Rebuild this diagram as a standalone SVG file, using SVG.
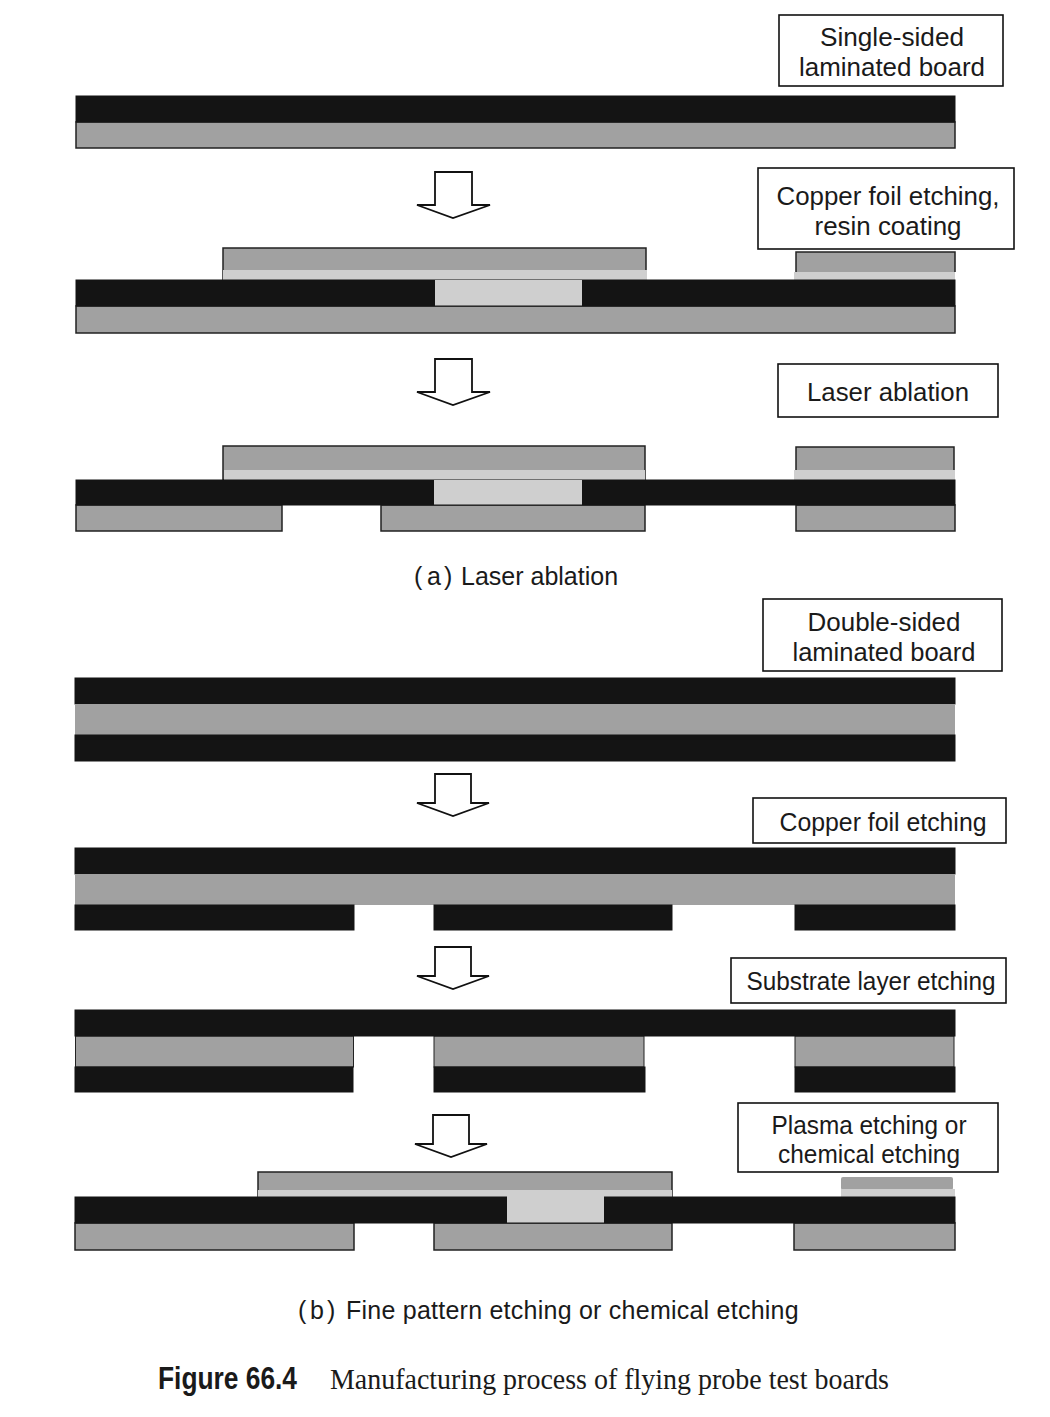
<svg xmlns="http://www.w3.org/2000/svg" width="1050" height="1417" viewBox="0 0 1050 1417">
<style>
.k{fill:#141414;stroke:#141414;stroke-width:1}
.g{fill:#a1a1a1;stroke:#222;stroke-width:1.5}
.n{fill:#a1a1a1}
.l{fill:#cfcfcf}
.b{fill:#fff;stroke:#111;stroke-width:1.6}
.a{fill:#fff;stroke:#111;stroke-width:1.8;stroke-linejoin:miter}
text{font-family:"Liberation Sans",Arial,sans-serif;font-size:25px;fill:#1a1a1a;text-anchor:middle}
.c{text-anchor:start}
</style>
<rect width="1050" height="1417" fill="#fff"/>
<g id="connectors">
<path class="a" d="M435 172H472V205L490 205L453 218L417 205L435 205Z"/>
<path class="a" d="M435 359H472V392L490 392L453 405L417 392L435 392Z"/>
<path class="a" d="M435 774H471V803L489 803L453 816L417 803L435 803Z"/>
<path class="a" d="M435 947H471V976L489 976L453 989L417 976L435 976Z"/>
<path class="a" d="M433 1115H469V1144L487 1144L451 1157L415 1144L433 1144Z"/>
</g>
<g id="board-a1">
<rect class="g" x="76" y="122" width="879" height="26"/>
<rect class="k" x="76" y="96" width="879" height="26"/>
</g>
<g id="board-a2">
<rect class="g" x="223" y="248" width="423" height="32"/>
<rect class="l" x="223" y="270" width="424" height="10"/>
<rect class="n" x="796" y="252" width="159" height="20"/>
<path d="M796 272V252H955V272" fill="none" stroke="#222" stroke-width="1.5"/>
<rect class="l" x="794" y="272" width="161" height="8"/>
<rect class="g" x="76" y="306" width="879" height="27"/>
<rect class="k" x="76" y="280" width="879" height="26"/>
<rect class="l" x="435" y="280" width="147" height="25.500"/>
</g>
<g id="board-a3">
<rect class="g" x="223" y="446" width="422" height="34"/>
<rect class="l" x="224" y="470" width="421" height="10"/>
<rect class="g" x="796" y="447" width="158" height="33"/>
<rect class="l" x="794" y="470" width="161" height="10"/>
<rect class="g" x="76" y="505" width="206" height="26"/>
<rect class="g" x="381" y="505" width="264" height="26"/>
<rect class="g" x="796" y="505" width="159" height="26"/>
<rect class="k" x="76" y="480" width="879" height="25"/>
<rect class="l" x="434" y="480" width="148" height="24.500"/>
</g>
<g id="board-b1">
<rect class="k" x="75" y="678" width="880" height="26"/>
<rect class="n" x="75" y="704" width="880" height="31"/>
<rect class="k" x="75" y="735" width="880" height="26"/>
</g>
<g id="board-b2">
<rect class="k" x="75" y="848" width="880" height="26"/>
<rect class="n" x="75" y="874" width="880" height="31"/>
<rect class="k" x="75" y="905" width="279" height="25"/>
<rect class="k" x="434" y="905" width="238" height="25"/>
<rect class="k" x="795" y="905" width="160" height="25"/>
</g>
<g id="board-b3">
<rect class="g" x="75.500" y="1036" width="278" height="31" style="stroke-width:1"/>
<rect class="g" x="434" y="1036" width="210" height="31" style="stroke-width:1"/>
<rect class="g" x="795" y="1036" width="159" height="31" style="stroke-width:1"/>
<rect class="k" x="75" y="1010" width="880" height="26"/>
<rect class="k" x="75" y="1067" width="278" height="25"/>
<rect class="k" x="434" y="1067" width="211" height="25"/>
<rect class="k" x="795" y="1067" width="160" height="25"/>
</g>
<g id="board-b4">
<rect class="g" x="258" y="1172" width="414" height="25"/>
<rect class="l" x="258" y="1190" width="414" height="7"/>
<rect class="n" x="841" y="1177" width="112" height="13" rx="2"/>
<rect class="l" x="841" y="1189" width="114" height="8"/>
<rect class="g" x="75" y="1223" width="279" height="27"/>
<rect class="g" x="434" y="1223" width="238" height="27"/>
<rect class="g" x="794" y="1223" width="161" height="27"/>
<rect class="k" x="75" y="1197" width="880" height="26"/>
<rect class="l" x="507" y="1191" width="97" height="31.500"/>
</g>
<g id="label-single"><rect class="b" x="779" y="15" width="224" height="71"/><text x="892" y="46" textLength="144" lengthAdjust="spacingAndGlyphs">Single-sided</text><text x="892" y="76" textLength="186" lengthAdjust="spacingAndGlyphs">laminated board</text></g>
<g id="label-copper-resin"><rect class="b" x="758" y="168" width="256" height="81"/><text x="888" y="205" textLength="223" lengthAdjust="spacingAndGlyphs">Copper foil etching,</text><text x="888" y="235" textLength="147" lengthAdjust="spacingAndGlyphs">resin coating</text></g>
<g id="label-laser"><rect class="b" x="778" y="364" width="220" height="53"/><text x="888" y="401" textLength="162" lengthAdjust="spacingAndGlyphs">Laser ablation</text></g>
<g id="caption-a"><text class="c" x="414" y="585">(<tspan x="427">a</tspan><tspan x="444">) </tspan><tspan x="461">Laser ablation</tspan></text></g>
<g id="label-double"><rect class="b" x="763" y="599" width="239" height="72"/><text x="884" y="631" textLength="153" lengthAdjust="spacingAndGlyphs">Double-sided</text><text x="884" y="661" textLength="183" lengthAdjust="spacingAndGlyphs">laminated board</text></g>
<g id="label-copper"><rect class="b" x="753" y="798" width="253" height="45"/><text x="883" y="831" textLength="207" lengthAdjust="spacingAndGlyphs">Copper foil etching</text></g>
<g id="label-substrate"><rect class="b" x="731" y="958" width="275" height="45"/><text x="871" y="990" textLength="249" lengthAdjust="spacingAndGlyphs">Substrate layer etching</text></g>
<g id="label-plasma"><rect class="b" x="738" y="1103" width="260" height="69"/><text x="869" y="1134" textLength="195" lengthAdjust="spacingAndGlyphs">Plasma etching or</text><text x="869" y="1163" textLength="182" lengthAdjust="spacingAndGlyphs">chemical etching</text></g>
<g id="caption-b"><text class="c" x="298" y="1319" style="letter-spacing:.24px">(<tspan x="310">b</tspan><tspan x="327">) </tspan><tspan x="346">Fine pattern etching or chemical etching</tspan></text></g>
<g id="figure-title">
<text class="c" x="158" y="1389" font-weight="700" style="font-size:31px" textLength="139" lengthAdjust="spacingAndGlyphs">Figure 66.4</text>
<text class="c" x="330" y="1389" style="font-size:29px;font-family:'Liberation Serif',serif" textLength="559" lengthAdjust="spacingAndGlyphs">Manufacturing process of flying probe test boards</text>
</g>
</svg>
